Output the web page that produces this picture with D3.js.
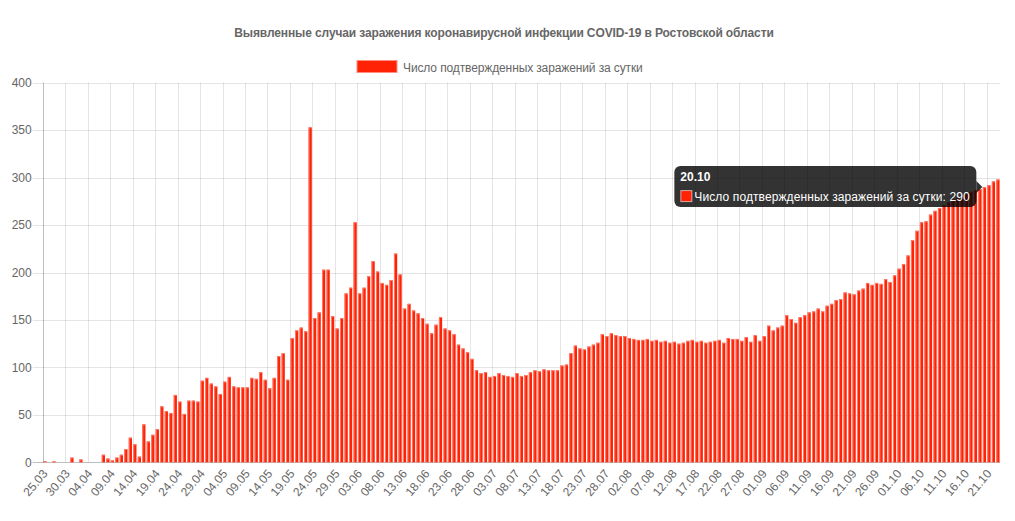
<!DOCTYPE html>
<html>
<head>
<meta charset="utf-8">
<script src="https://cdn.jsdelivr.net/npm/d3@7"></script>
<style>
  html, body { margin: 0; padding: 0; background: #fff; }
  svg { display: block; font-family: "Liberation Sans", Arial, Helvetica, sans-serif; }
</style>
</head>
<body>
<svg id="chart" width="1015" height="521"></svg>
<script>
const titleText = "Выявленные случаи заражения коронавирусной инфекции COVID-19 в Ростовской области";
const seriesName = "Число подтвержденных заражений за сутки";

const categories = (
  "25.03 26.03 27.03 28.03 29.03 30.03 31.03 " +
  "01.04 02.04 03.04 04.04 05.04 06.04 07.04 08.04 09.04 10.04 11.04 12.04 13.04 14.04 15.04 16.04 17.04 18.04 19.04 20.04 21.04 22.04 23.04 24.04 25.04 26.04 27.04 28.04 29.04 30.04 " +
  "01.05 02.05 03.05 04.05 05.05 06.05 07.05 08.05 09.05 10.05 11.05 12.05 13.05 14.05 15.05 16.05 17.05 18.05 19.05 20.05 21.05 22.05 23.05 24.05 25.05 26.05 27.05 28.05 29.05 30.05 31.05 " +
  "01.06 02.06 03.06 04.06 05.06 06.06 07.06 08.06 09.06 10.06 11.06 12.06 13.06 14.06 15.06 16.06 17.06 18.06 19.06 20.06 21.06 22.06 23.06 24.06 25.06 26.06 27.06 28.06 29.06 30.06 " +
  "01.07 02.07 03.07 04.07 05.07 06.07 07.07 08.07 09.07 10.07 11.07 12.07 13.07 14.07 15.07 16.07 17.07 18.07 19.07 20.07 21.07 22.07 23.07 24.07 25.07 26.07 27.07 28.07 29.07 30.07 31.07 " +
  "01.08 02.08 03.08 04.08 05.08 06.08 07.08 08.08 09.08 10.08 11.08 12.08 13.08 14.08 15.08 16.08 17.08 18.08 19.08 20.08 21.08 22.08 23.08 24.08 25.08 26.08 27.08 28.08 29.08 30.08 31.08 " +
  "01.09 02.09 03.09 04.09 05.09 06.09 07.09 08.09 09.09 10.09 11.09 12.09 13.09 14.09 15.09 16.09 17.09 18.09 19.09 20.09 21.09 22.09 23.09 24.09 25.09 26.09 27.09 28.09 29.09 30.09 " +
  "01.10 02.10 03.10 04.10 05.10 06.10 07.10 08.10 09.10 10.10 11.10 12.10 13.10 14.10 15.10 16.10 17.10 18.10 19.10 20.10 21.10 22.10 23.10"
).split(" ");

const values = [
  1, 0, 1, 0, 0, 0, 5,
  0, 3, 0, 0, 0, 0, 8, 4, 2, 5, 8, 14, 26, 19, 6, 40, 22, 29, 35, 59, 54, 52, 71, 64, 51, 65, 65, 64, 86, 89,
  83, 80, 72, 85, 90, 80, 79, 79, 79, 89, 88, 95, 87, 78, 89, 112, 115, 87, 131, 139, 142, 138, 353, 152, 158, 203, 203, 154, 141, 152, 178,
  184, 253, 178, 184, 196, 212, 201, 189, 187, 192, 220, 198, 162, 167, 160, 157, 152, 146, 136, 145, 153, 141, 139, 135, 124, 120, 116, 109, 97, 94,
  95, 90, 91, 94, 92, 91, 90, 94, 91, 92, 95, 97, 96, 98, 97, 97, 97, 102, 103, 115, 123, 120, 119, 122, 124, 126, 135, 133, 136, 134, 133,
  133, 131, 130, 129, 129, 130, 128, 129, 127, 128, 126, 127, 125, 126, 128, 129, 127, 128, 126, 127, 128, 129, 126, 131, 130, 130, 128, 132, 127, 134, 128,
  133, 144, 139, 142, 144, 155, 151, 147, 153, 155, 158, 159, 162, 159, 165, 167, 171, 172, 179, 178, 177, 181, 183, 189, 187, 189, 188, 193, 190, 197,
  204, 209, 218, 234, 244, 253, 254, 261, 265, 268, 271, 274, 277, 279, 281, 283, 285, 287, 288, 290, 292, 296, 298
];

const yTicks = [0, 50, 100, 150, 200, 250, 300, 350, 400];
const tickEvery = 5;
const hoverLabel = "20.10";

(function () {
const svg = d3.select("#chart");
const W = 1015;
const pLeft = 42.7, pRight = 1000.2, pTop = 82.7, pBottom = 462.3;

const x = d3.scaleBand().domain(categories).range([pLeft, pRight]).paddingInner(0.28).paddingOuter(0.14);
const step = x.step();
const slotLeft = d => x(d) - step * 0.14;
const slotCenter = d => x(d) + x.bandwidth() / 2;
const y = d3.scaleLinear().domain([0, 400]).range([pBottom, pTop]);

const TEXT = "#666";
const BAR = "#ff2205";
const BAR_EDGE = "#ff8e80";

// Title
svg.append("text").attr("x", 504).attr("y", 37).attr("text-anchor", "middle")
  .attr("font-size", 12).attr("font-weight", "bold").attr("letter-spacing", -0.12)
  .attr("fill", TEXT).text(titleText);

// Legend
const legendG = svg.append("g");
const lx = 357;
legendG.append("rect").attr("x", lx).attr("y", 60.5).attr("width", 40).attr("height", 12)
  .attr("fill", BAR).attr("stroke", BAR_EDGE).attr("stroke-width", 1);
legendG.append("text").attr("x", lx + 46).attr("y", 71.5).attr("font-size", 12)
  .attr("letter-spacing", -0.12).attr("fill", TEXT).text(seriesName);

// Horizontal gridlines (with left tick marks)
const gridG = svg.append("g");
gridG.selectAll("line.h").data(yTicks).join("line").attr("class", "h")
  .attr("x1", pLeft - 10).attr("x2", pRight)
  .attr("y1", d => Math.round(y(d)) + 0.5).attr("y2", d => Math.round(y(d)) + 0.5)
  .attr("stroke", d => d === 0 ? "rgba(0,0,0,0.25)" : "rgba(0,0,0,0.1)").attr("stroke-width", 1);

// Vertical gridlines at shown ticks
const shown = categories.filter((c, i) => i % tickEvery === 0);
gridG.selectAll("line.v").data(shown).join("line").attr("class", "v")
  .attr("x1", d => Math.round(slotLeft(d)) + 0.5).attr("x2", d => Math.round(slotLeft(d)) + 0.5)
  .attr("y1", pTop).attr("y2", pBottom)
  .attr("stroke", (d, i) => i === 0 ? "rgba(0,0,0,0.25)" : "rgba(0,0,0,0.1)").attr("stroke-width", 1);

// Y axis labels via d3 axis
const yAxis = svg.append("g").attr("transform", `translate(${pLeft - 11},0)`)
  .call(d3.axisLeft(y).tickValues(yTicks).tickSize(0).tickPadding(0));
yAxis.select(".domain").remove();
yAxis.selectAll("text").attr("font-size", 12).attr("fill", TEXT)
  .attr("font-family", "Liberation Sans, Arial, sans-serif");

// X axis labels via d3 axis
const xAxis = svg.append("g").attr("transform", `translate(0,${pBottom})`)
  .call(d3.axisBottom(x).tickValues(shown).tickSize(0).tickPadding(0));
xAxis.select(".domain").remove();
xAxis.selectAll(".tick").attr("transform", d => `translate(${slotCenter(d)},0)`);
xAxis.selectAll("text")
  .attr("font-size", 12).attr("fill", TEXT).attr("font-family", "Liberation Sans, Arial, sans-serif")
  .attr("text-anchor", "end").attr("dy", "0.35em").attr("y", 0)
  .attr("transform", "translate(0,9) rotate(-50)");

// Bars
const data = categories.map((c, i) => ({ c, v: values[i] }));
const barsG = svg.append("g");
barsG.selectAll("rect").data(data.filter(d => d.v > 0)).join("rect")
  .attr("x", d => x(d.c)).attr("width", x.bandwidth())
  .attr("y", d => y(d.v)).attr("height", d => y(0) - y(d.v))
  .attr("fill", BAR);
barsG.selectAll("path").data(data.filter(d => d.v > 0)).join("path")
  .attr("d", d => `M${x(d.c) + 0.5},${y(0)} L${x(d.c) + 0.5},${y(d.v) + 0.5} L${x(d.c) + x.bandwidth()},${y(d.v) + 0.5}`)
  .attr("fill", "none").attr("stroke", BAR_EDGE).attr("stroke-width", 1).attr("opacity", 0.8);

// Tooltip
const hv = values[categories.indexOf(hoverLabel)];
const caretX = x(hoverLabel) - 0.5;
const caretY = y(hv);
const tipG = svg.append("g");
const bodyStr = seriesName + ": " + hv;
const tmp = tipG.append("text").attr("font-size", 12).text(bodyStr);
const bw = tmp.node().getComputedTextLength();
tmp.remove();
const tipW = bw + 31;
const tipH = 41;
const tipRight = caretX - 6;
const tipX = tipRight - tipW, tipY = caretY - 21;
tipG.append("rect").attr("x", tipX).attr("y", tipY).attr("width", tipW).attr("height", tipH)
  .attr("rx", 6).attr("ry", 6).attr("fill", "rgba(0,0,0,0.8)");
tipG.append("path")
  .attr("d", `M${tipRight},${caretY - 6} L${caretX},${caretY} L${tipRight},${caretY + 6} Z`)
  .attr("fill", "rgba(0,0,0,0.8)");
tipG.append("text").attr("x", tipX + 6).attr("y", tipY + 15).attr("font-size", 12).attr("font-weight", "bold")
  .attr("fill", "#fff").text(hoverLabel);
tipG.append("rect").attr("x", tipX + 6.5).attr("y", tipY + 24.5).attr("width", 11).attr("height", 11)
  .attr("fill", BAR).attr("stroke", "#fff").attr("stroke-opacity", 0.6).attr("stroke-width", 1);
tipG.append("text").attr("x", tipX + 20).attr("y", tipY + 34.5).attr("font-size", 12)
  .attr("letter-spacing", 0.1).attr("fill", "#fff").text(bodyStr);
})();
</script>
</body>
</html>
